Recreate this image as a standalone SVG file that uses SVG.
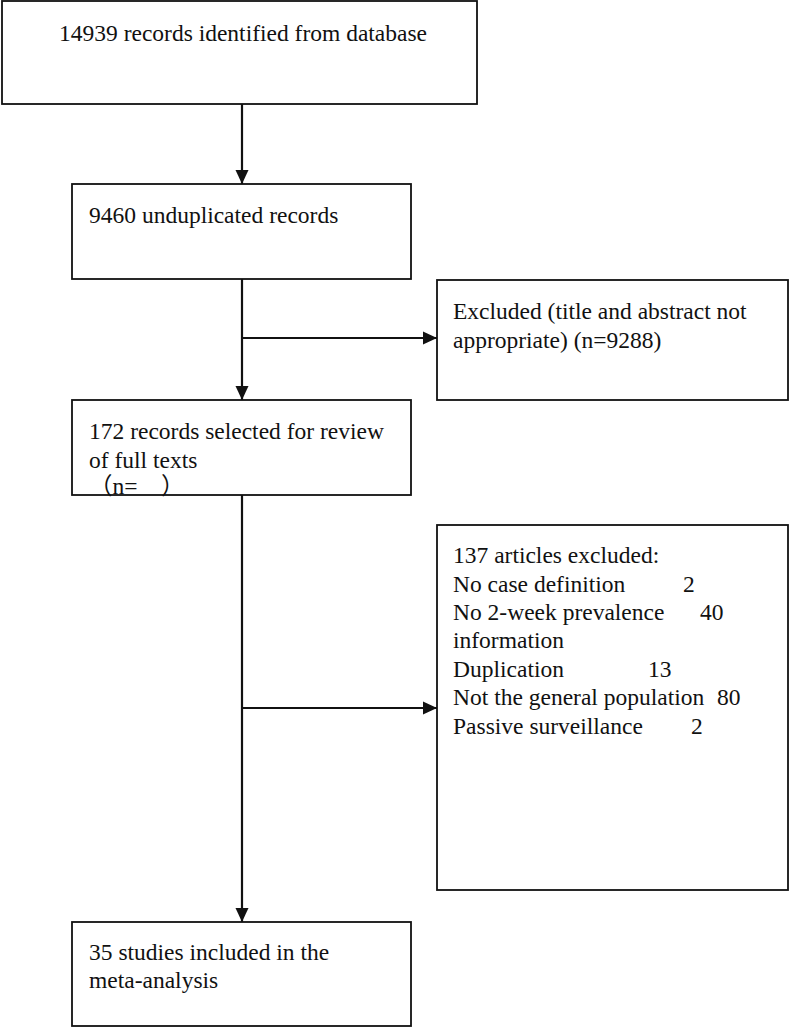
<svg xmlns="http://www.w3.org/2000/svg" width="789" height="1027" viewBox="0 0 789 1027">
<style>
.box{fill:#fff;stroke:#111;stroke-width:1.8}
.t{font-family:"Liberation Serif","Times New Roman",serif;font-size:23.5px;fill:#111}
.c{stroke:#111;stroke-width:2.2;fill:none}
</style>
<defs>
<marker id="ah" markerWidth="14" markerHeight="14" refX="14" refY="7" orient="auto" markerUnits="userSpaceOnUse">
<path d="M0,0.5 L14,7 L0,13.5 Z" fill="#111"/>
</marker>
</defs>
<rect width="789" height="1027" fill="#fff"/>
<g id="connectors">
<line class="c" x1="242" y1="104" x2="242" y2="184" marker-end="url(#ah)"/>
<line class="c" x1="242" y1="279" x2="242" y2="400" marker-end="url(#ah)"/>
<line class="c" x1="242" y1="338" x2="437" y2="338" marker-end="url(#ah)"/>
<line class="c" x1="242" y1="495" x2="242" y2="922" marker-end="url(#ah)"/>
<line class="c" x1="242" y1="708" x2="437" y2="708" marker-end="url(#ah)"/>
</g>
<g id="n1">
<rect class="box" x="2" y="1" width="475" height="103"/>
<text class="t" x="59" y="41">14939 records identified from database</text>
</g>
<g id="n2">
<rect class="box" x="72" y="184" width="339" height="95"/>
<text class="t" x="89" y="223">9460 unduplicated records</text>
</g>
<g id="n3">
<rect class="box" x="437" y="280" width="351" height="120"/>
<text class="t" x="453" y="319">Excluded (title and abstract not</text>
<text class="t" x="453" y="348">appropriate) (n=9288)</text>
</g>
<g id="n4">
<rect class="box" x="72" y="400" width="339" height="95"/>
<text class="t" x="89" y="439">172 records selected for review</text>
<text class="t" x="89" y="468">of full texts</text>
<text class="t" x="89" y="494" style="font-family:'Liberation Serif','Noto Sans CJK SC',serif">（n=　）</text>
</g>
<g id="n5">
<rect class="box" x="437" y="525" width="351" height="365"/>
<text class="t" x="453" y="563">137 articles excluded:</text>
<text class="t" x="453" y="592">No case definition</text>
<text class="t" x="683" y="592">2</text>
<text class="t" x="453" y="620">No 2-week prevalence</text>
<text class="t" x="700" y="620">40</text>
<text class="t" x="453" y="648">information</text>
<text class="t" x="453" y="677">Duplication</text>
<text class="t" x="648" y="677">13</text>
<text class="t" x="453" y="705">Not the general population</text>
<text class="t" x="717" y="705">80</text>
<text class="t" x="453" y="734">Passive surveillance</text>
<text class="t" x="691" y="734">2</text>
</g>
<g id="n6">
<rect class="box" x="72" y="922" width="339" height="104"/>
<text class="t" x="89" y="960">35 studies included in the</text>
<text class="t" x="89" y="988">meta-analysis</text>
</g>
</svg>
